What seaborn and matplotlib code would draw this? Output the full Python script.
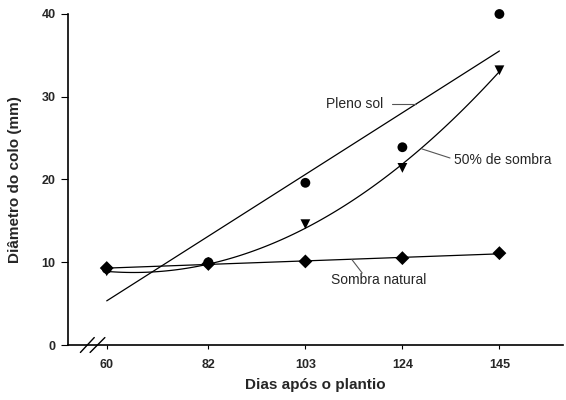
import numpy as np
import pandas as pd
import seaborn as sns
import matplotlib.pyplot as plt

# dados
dias = [60, 82, 103, 124, 145]
pleno_sol = [9.2, 10.0, 19.6, 23.9, 40.0]
sombra_50 = [8.9, 9.6, 14.6, 21.4, 33.2]
sombra_natural = [9.3, 9.8, 10.1, 10.5, 11.1]

df = pd.DataFrame({'dias': dias, 'pleno_sol': pleno_sol,
                   'sombra_50': sombra_50, 'sombra_natural': sombra_natural})

sns.set_style('ticks')
plt.rcParams['font.family'] = ['Liberation Sans', 'DejaVu Sans']

fig = plt.figure(figsize=(5.66, 4.0), dpi=100)
ax = fig.add_axes([0.120, 0.1375, 0.875, 0.8275])

line_kw = {'color': 'black', 'lw': 0.9}
pts = {'s': 50, 'alpha': 1, 'edgecolors': 'none', 'clip_on': False}
# sombra natural - reta
sns.regplot(data=df, x='dias', y='sombra_natural', order=1, ci=None, ax=ax,
            marker='D', color='black', scatter_kws=dict(pts, zorder=3),
            line_kws=line_kw)
# pleno sol - reta
sns.regplot(data=df, x='dias', y='pleno_sol', order=1, ci=None, ax=ax,
            marker='o', color='black', scatter_kws=dict(pts, zorder=4),
            line_kws=line_kw)
# 50% de sombra - quadratica
sns.regplot(data=df, x='dias', y='sombra_50', order=2, ci=None, ax=ax,
            marker='v', color='black', scatter_kws=dict(pts, zorder=5),
            line_kws=line_kw)

ax.set_xlim(51.6, 158.8)
ax.set_ylim(0, 40)
ax.set_xticks(dias)
ax.set_yticks([0, 10, 20, 30, 40])
ax.tick_params(axis='both', labelsize=9, width=0.8, color='black')
ax.tick_params(axis='x', length=3, pad=7)
ax.tick_params(axis='y', length=5, pad=4)
for lab in ax.get_xticklabels() + ax.get_yticklabels():
    lab.set_fontweight('bold')
ax.spines['top'].set_visible(False)
ax.spines['right'].set_visible(False)
ax.spines['left'].set_linewidth(1.2)
ax.spines['bottom'].set_linewidth(1.2)
ax.spines['left'].set_color('black')
ax.spines['bottom'].set_color('black')

ax.set_xlabel('Dias após o plantio', fontsize=11, fontweight='bold', labelpad=5)
ax.set_ylabel('Diâmetro do colo (mm)', fontsize=11, fontweight='bold', labelpad=14)

# quebra do eixo
ax.plot([54.3, 57.3], [-0.9, 0.9], color='black', lw=1, clip_on=False)
ax.plot([56.4, 59.6], [-0.9, 0.9], color='black', lw=1, clip_on=False)

# rotulos das curvas
ax.text(107.5, 29.1, 'Pleno sol', fontsize=10, ha='left', va='center')
ax.plot([121.8, 127.0], [29.1, 29.1], color='#555555', lw=0.8)
ax.text(135.2, 22.3, '50% de sombra', fontsize=10, ha='left', va='center')
ax.plot([128.2, 134.3], [23.7, 22.6], color='#555555', lw=0.8)
ax.text(108.6, 7.85, 'Sombra natural', fontsize=10, ha='left', va='center')
ax.plot([113.1, 115.3], [10.3, 8.7], color='#555555', lw=0.8)

fig.savefig('out.png', dpi=100)
